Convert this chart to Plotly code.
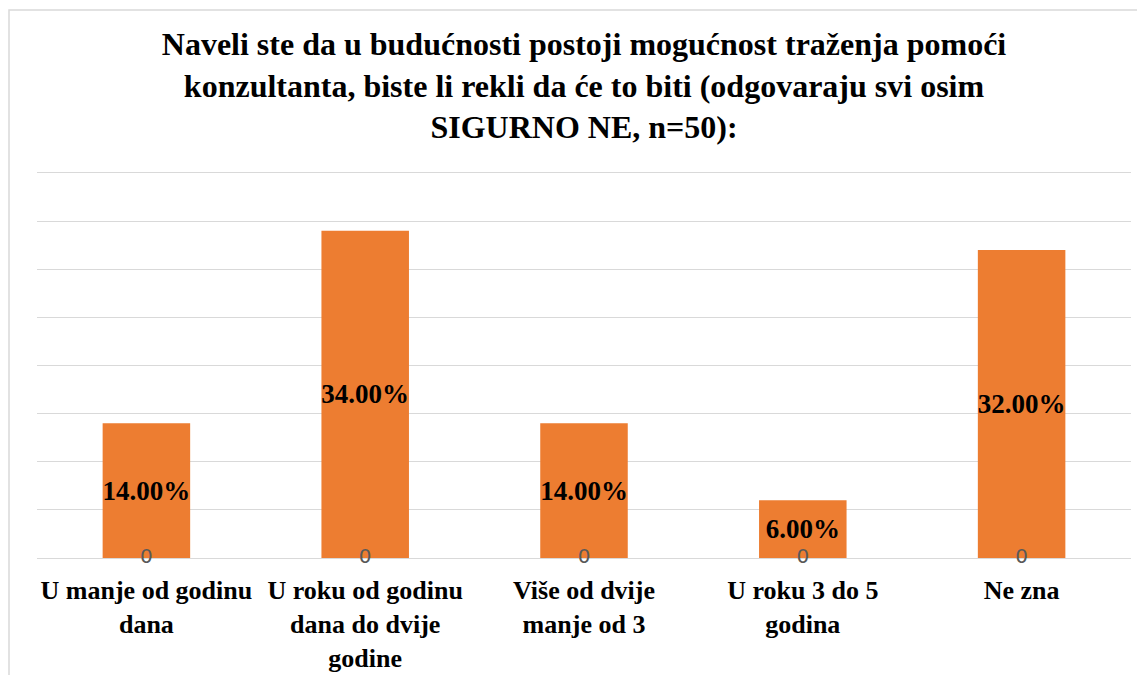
import plotly.graph_objects as go

# categories and shares (percent)
categories = [
    "U manje od godinu<br>dana",
    "U roku od godinu<br>dana do dvije<br>godine",
    "Više od dvije<br>manje od 3",
    "U roku 3 do 5<br>godina",
    "Ne zna",
]
shares = [14.0, 34.0, 14.0, 6.0, 32.0]
zero_labels = [0, 0, 0, 0, 0]

title_text = ("<b>Naveli ste da u budućnosti postoji mogućnost traženja pomoći<br>"
              "konzultanta, biste li rekli da će to biti (odgovaraju svi osim<br>"
              "SIGURNO NE, n=50):</b>")

serif = "Liberation Serif"

fig = go.Figure()
fig.add_trace(go.Bar(
    x=categories,
    y=shares,
    marker=dict(color="#ED7D31", line=dict(width=0)),
    text=[f"<b>{v:.2f}%</b>" for v in shares],
    textposition="inside",
    insidetextanchor="middle",
    constraintext="none",
    textangle=0,
    textfont=dict(family=serif, size=27, color="black"),
    cliponaxis=False,
    hoverinfo="skip",
))
# stray "0" labels at the bottom of each bar
fig.add_trace(go.Scatter(
    x=categories,
    y=zero_labels,
    mode="text",
    text=[str(v) for v in zero_labels],
    textposition="middle center",
    textfont=dict(family="DejaVu Sans", size=20, color="#595959"),
    cliponaxis=False,
    hoverinfo="skip",
))

# plot area: 1094 x 388 px, bottom at y=550 (page adds 8px body margin)
fig.update_layout(
    width=1145,
    height=675,
    paper_bgcolor="white",
    plot_bgcolor="white",
    showlegend=False,
    bargap=0.6,
    margin=dict(l=29, r=22, t=162, b=125, autoexpand=False),
    uniformtext=dict(minsize=8, mode=False),
    title=dict(
        text=title_text,
        x=0.5, xref="paper", xanchor="center",
        y=1 - 47 / 675, yref="container", yanchor="top",
        font=dict(family=serif, size=32, color="black"),
    ),
    xaxis=dict(
        showgrid=False,
        showline=False,
        zeroline=False,
        ticks="",
        automargin=False,
        ticklabelstandoff=14,
        tickfont=dict(family=serif, size=26, color="black"),
        tickvals=categories,
        ticktext=[f"<b>{c}</b>" for c in categories],
    ),
    yaxis=dict(
        range=[0, 40.3],
        dtick=5,
        showticklabels=False,
        showgrid=True,
        gridcolor="#d9d9d9",
        gridwidth=1.3,
        zeroline=True,
        zerolinecolor="#d9d9d9",
        zerolinewidth=1.3,
        automargin=False,
        fixedrange=True,
    ),
    shapes=[dict(
        type="rect", xref="paper", yref="paper",
        x0=(1 - 29) / 1094, x1=(1160 - 29) / 1094,
        y0=(550 - 700) / 388, y1=(550 - 2) / 388,
        line=dict(color="#d9d9d9", width=1.5),
        fillcolor="rgba(0,0,0,0)",
        layer="below",
    )],
)

fig.write_html("out.html")
